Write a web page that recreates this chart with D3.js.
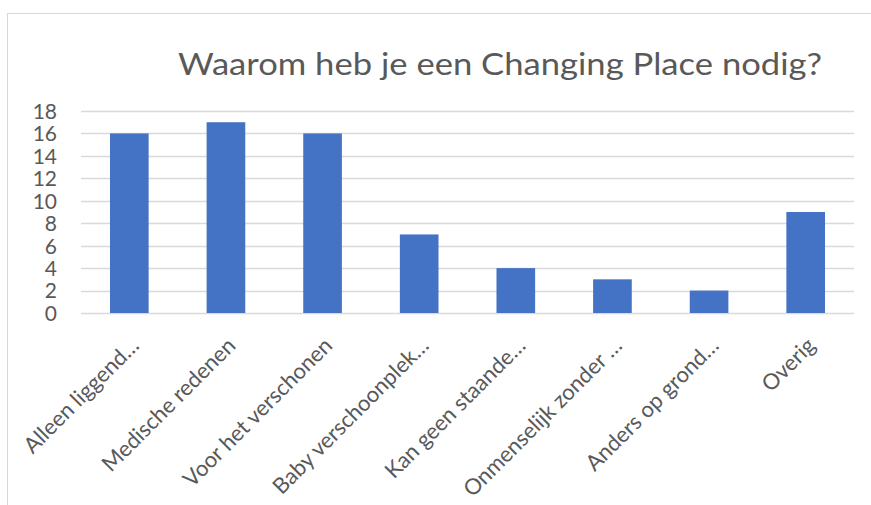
<!DOCTYPE html>
<html><head><meta charset="utf-8">
<script src="https://cdn.jsdelivr.net/npm/d3@7/dist/d3.min.js"></script>
<style>body{margin:0;background:#fff;} svg{display:block;}</style>
</head><body>
<script>
const categories = ["Alleen liggend…","Medische redenen","Voor het verschonen","Baby verschoonplek…","Kan geen staande…","Onmenselijk zonder …","Anders op grond…","Overig"];
const values = [16,17,16,7,4,3,2,9];
const yTicks = [0,2,4,6,8,10,12,14,16,18];
const title = "Waarom heb je een Changing Place nodig?";

(function(){
const W=871,H=505;
const svg=d3.select("body").append("svg").attr("width",W).attr("height",H);
const font="Lato, 'Open Sans', sans-serif";
const textCol="#595959";
svg.append("rect").attr("x",7.5).attr("y",13.5).attr("width",W).attr("height",H).attr("fill","#fff").attr("stroke","#d9d9d9").attr("stroke-width",1);

const pl=81,pr=854,pt=111,pb=313;
const x=d3.scaleBand().domain(categories).range([pl,pr]).paddingInner(0.6).paddingOuter(0.3);
const y=d3.scaleLinear().domain([0,18]).range([pb,pt]);

svg.append("text").attr("x",500).attr("y",75).attr("text-anchor","middle")
 .attr("font-family",font).attr("font-size",31).attr("fill",textCol)
 .attr("textLength",644).attr("lengthAdjust","spacingAndGlyphs").text(title);

const g=svg.append("g");
g.selectAll("line.grid").data(yTicks).join("line").attr("class","grid")
 .attr("x1",pl).attr("x2",pr).attr("y1",d=>Math.round(y(d))+0.5).attr("y2",d=>Math.round(y(d))+0.5)
 .attr("stroke","#d9d9d9").attr("stroke-width",1.5);

const yAxis=d3.axisLeft(y).tickValues(yTicks).tickSize(0).tickPadding(0);
const ya=svg.append("g").attr("transform",`translate(57,0)`).call(yAxis);
ya.select(".domain").remove();
ya.selectAll("text").attr("font-family",font).attr("font-size",21).attr("fill",textCol).attr("dy","0.35em");

g.selectAll("rect.bar").data(values).join("rect").attr("class","bar")
 .attr("x",(d,i)=>x(categories[i])).attr("width",x.bandwidth())
 .attr("y",d=>y(d)).attr("height",d=>y(0)-y(d)).attr("fill","#4472c4");

const xAxis=d3.axisBottom(x).tickSize(0).tickPadding(0);
const xa=svg.append("g").attr("transform",`translate(0,${pb})`).call(xAxis);
xa.select(".domain").remove();
xa.selectAll("text").attr("font-family",font).attr("font-size",22).attr("fill",textCol)
 .attr("text-anchor","end").attr("dy",0).attr("y",0)
 .attr("transform","translate(11,34) rotate(-45)");
})();
</script>
</body></html>
